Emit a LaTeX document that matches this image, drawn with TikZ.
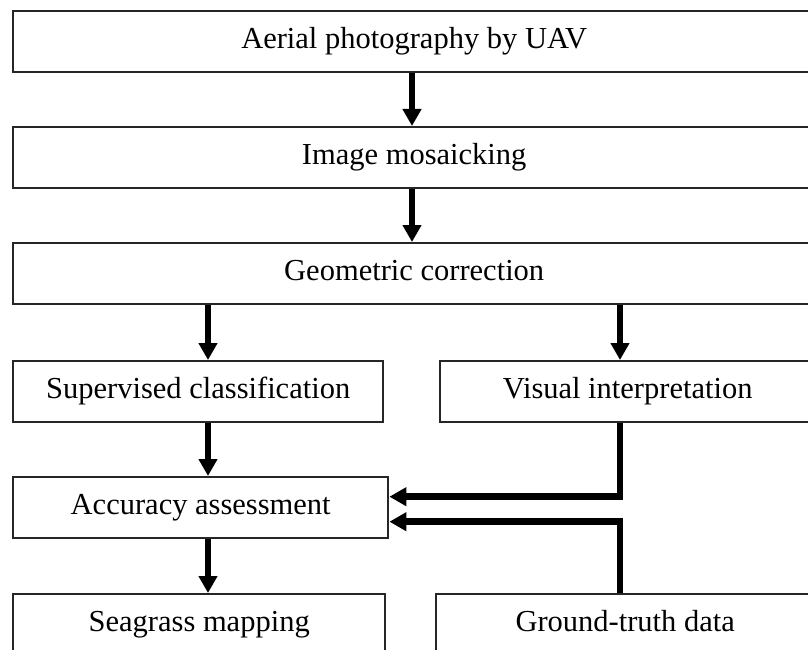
\documentclass[tikz,border=0pt]{standalone}
\usepackage{fontspec}
\setmainfont{Liberation Serif}
\usetikzlibrary{arrows.meta,calc}
\begin{document}
\begin{tikzpicture}[x=1pt,y=-1pt,
  box/.style={draw=black!85, line width=2.4pt, fill=white, anchor=north west,
    inner sep=0pt, text height=21pt, text depth=7pt,
    font=\fontsize{30.5}{34}\selectfont},
  wide/.style={box, minimum width=802pt, minimum height=61pt},
  half/.style={box, minimum height=61pt},
  arr/.style={line width=6.5pt, -{Triangle[width=18pt,length=17pt]}}]
\clip (0,0) rectangle (808,650);
\fill[white] (0,0) rectangle (808,650);
% top chain of full-width steps
\node[wide] (aerial) at (12,10) {Aerial photography by UAV};
\node[wide] (mosaic) at (12,126) {Image mosaicking};
\node[wide] (geo) at (12,242) {Geometric correction};
% two branches
\node[half, minimum width=370pt] (sup) at (12,360) {Supervised classification};
\node[half, minimum width=375pt] (vis) at (439,360) {Visual interpretation};
\node[half, minimum width=375pt] (acc) at (12,476) {Accuracy assessment};
\node[half, minimum width=372pt] (sea) at (12,593) {Seagrass mapping};
\node[half, minimum width=378pt] (gt) at (435,593) {Ground-truth data};
% connector columns
\coordinate (lx) at (208,0);
\coordinate (rx) at (620,0);
% arrows
\draw[arr] (aerial.south -| 412,0) -- (mosaic.north -| 412,0);
\draw[arr] (mosaic.south -| 412,0) -- (geo.north -| 412,0);
\draw[arr] (geo.south -| lx) -- (sup.north -| lx);
\draw[arr] (geo.south -| rx) -- (vis.north -| rx);
\draw[arr] (sup.south -| lx) -- (acc.north -| lx);
\draw[arr] (acc.south -| lx) -- (sea.north -| lx);
\draw[arr] (vis.south -| rx) |- ($(acc.east)+(0,-11)$);
\draw[arr] (gt.north -| rx) |- ($(acc.east)+(0,14)$);
\end{tikzpicture}
\end{document}
